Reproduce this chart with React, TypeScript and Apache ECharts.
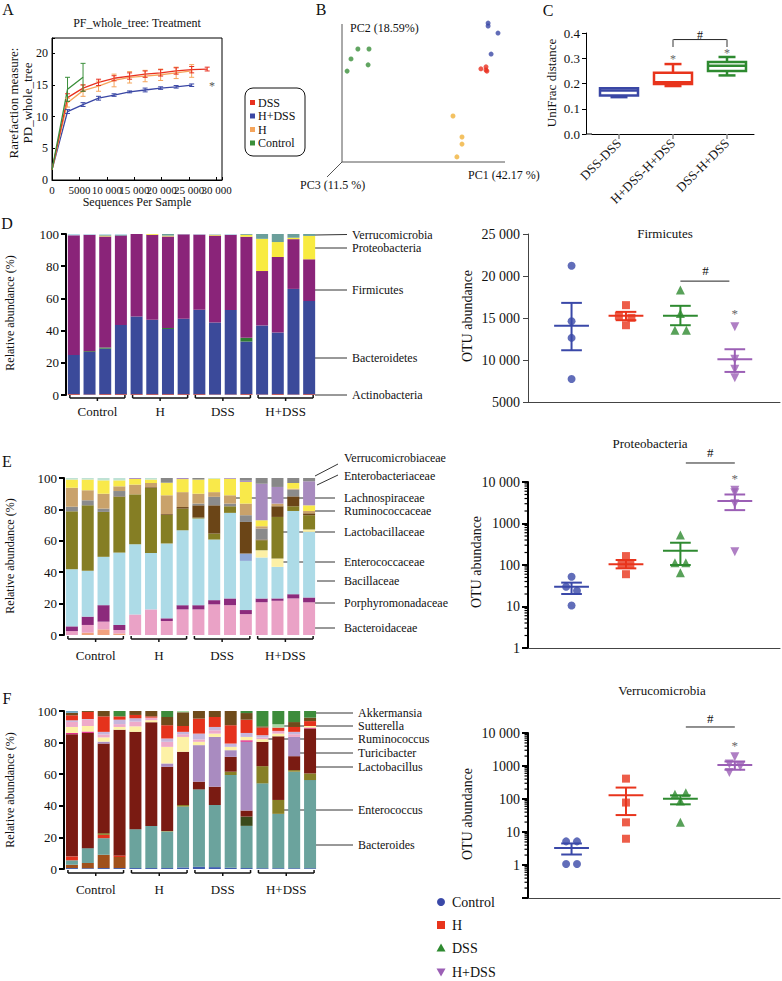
import React, { useEffect, useRef } from "react";
import * as echarts from "echarts";

const FONT = "Liberation Serif, DejaVu Serif, serif";
const fnt = (s: number) => `${s}px ${FONT}`;

// ---------------- Panel A: rarefaction ----------------
const rareDepths = [0, 2830, 5660, 8490, 11320, 14150, 16980, 19810, 22640, 25470, 28300];
const rareDSS = [1.6, 13.0, 14.5, 15.4, 16.05, 16.4, 16.7, 16.9, 17.2, 17.4, 17.5];
const rareDSSErr = [0, 0.6, 0.5, 0.5, 0.4, 0.5, 0.5, 0.5, 0.5, 0.5, 0.3];
const rareH = [1.6, 12.2, 14.1, 14.8, 15.7, 16.2, 16.4, 16.6, 16.9, 17.2];
const rareHErr = [0, 0.7, 0.9, 0.8, 1.0, 0.9, 0.9, 0.9, 0.9, 1.0];
const rareHDSS = [1.6, 10.8, 11.9, 12.9, 13.4, 13.9, 14.2, 14.5, 14.7, 14.95];
const rareHDSSErr = [0, 0.3, 0.3, 0.3, 0.2, 0.15, 0.3, 0.2, 0.2, 0.2];
const rareControl = [1.6, 14.3, 16.2];
const rareControlErr = [0, 1.9, 2.2];
const legendA = ["DSS", "H+DSS", "H", "Control"];

// ---------------- Panel B: PCoA ----------------
const pcControl = [[-0.247, 0.148], [-0.21, 0.148], [-0.27, 0.113], [-0.213, 0.092], [-0.283, 0.07]];
const pcHDSS = [[0.187, 0.239], [0.187, 0.229], [0.22, 0.204], [0.197, 0.13]];
const pcDSS = [[0.163, 0.078], [0.18, 0.085], [0.183, 0.07], [0.18, 0.074]];
const pcH = [[0.07, -0.088], [0.1, -0.162], [0.1, -0.187], [0.083, -0.232]];

// ---------------- Panel C: UniFrac ----------------
const uniCats = ["DSS-DSS", "H+DSS-H+DSS", "DSS-H+DSS"];
const uniBox = [
  [0.146, 0.152, 0.172, 0.181, 0.181],
  [0.19, 0.198, 0.205, 0.243, 0.277],
  [0.232, 0.25, 0.27, 0.285, 0.305],
];
const uniStars = [[1, 0.305], [2, 0.328]];
const uniSig = [1, 2, 0.374, 0.345, 0.393];

// ---------------- stacked bars ----------------
const sampleIds = ["C1", "C2", "C3", "C4", "H1", "H2", "H3", "H4", "D1", "D2", "D3", "D4", "HD1", "HD2", "HD3", "HD4"];
const groups = ["Control", "H", "DSS", "H+DSS"];
const groupRanges = [[0, 3], [4, 7], [8, 11], [12, 15]];

// D: phyla
const actinobacteria = [0.5, 0.3, 0.5, 0.5, 0.5, 0.5, 0.5, 0.5, 0.5, 0.3, 0.3, 0.5, 0.3, 0.5, 0.3, 0.5];
const bacteroidetes = [24.4, 26.4, 28.3, 43.0, 48.3, 46.2, 40.5, 46.8, 52.4, 44.7, 52.5, 32.7, 42.9, 38.3, 65.6, 57.9];
const deferribacteres = [0, 0.5, 0.7, 0, 0, 0, 0.6, 0, 0, 0, 0, 2.3, 0, 0, 0, 0];
const firmicutes = [74.3, 72.3, 69.0, 55.5, 51.2, 52.8, 56.9, 52.5, 46.8, 54.0, 46.7, 62.8, 33.8, 46.9, 30.9, 25.9];
const proteobacteria = [0, 0, 0.5, 0, 0, 0.5, 0.5, 0, 0, 0.5, 0, 1.2, 20.0, 9.3, 0.9, 14.5];
const verrucomicrobia = [0, 0, 0.5, 0.5, 0, 0, 1.0, 0, 0, 0.2, 0, 0.5, 3.0, 5.0, 2.3, 1.2];
const otherPhyla = [0.8, 0.5, 0.5, 0.5, 0, 0, 0, 0.2, 0.3, 0.3, 0.5, 0, 0, 0, 0, 0];

// E: families
const famSalmon = [0, 1.5, 3.6, 1.0, 0, 0, 0, 0, 0, 0, 0, 0, 0, 0, 0, 0];
const bacteroidaceae = [2.5, 4.9, 4.9, 2.2, 13.1, 16.3, 8.9, 16.3, 16.3, 19.5, 19.0, 13.3, 20.8, 21.8, 23.3, 20.8];
const porphyromonadaceae = [3.0, 5.3, 10.5, 3.2, 0, 0, 1.7, 2.7, 2.7, 2.7, 4.3, 2.6, 2.5, 1.5, 2.7, 3.1];
const bacillaceae = [36.4, 29.2, 30.8, 46.1, 44.7, 36.0, 47.7, 47.7, 55.2, 38.6, 54.5, 31.3, 26.1, 20.1, 53.0, 41.8];
const famPeri = [0, 0, 0, 0, 0, 0, 0, 0, 0, 0, 0, 4.7, 0, 0, 0, 0];
const enterococcaceae = [0, 0, 0, 0, 0, 0, 0, 0, 0, 0, 0, 0, 4.6, 5.3, 0, 1.5];
const lactobacillaceae = [36.9, 41.7, 28.6, 35.5, 31.8, 41.3, 18.2, 13.8, 0.6, 3.8, 4.2, 0, 6.4, 26.5, 3.0, 9.1];
const famBrown = [0, 0, 0, 0.3, 0, 0.5, 0.5, 1.0, 7.8, 18.0, 0, 20.1, 0.5, 6.8, 6.3, 1.2];
const famGray = [2.9, 3.2, 2.1, 3.4, 0, 0, 0, 0, 1.1, 5.4, 1.7, 4.3, 6.9, 0, 4.3, 0];
const lachnospiraceae = [12.1, 6.4, 9.5, 3.0, 6.2, 2.7, 12.0, 9.5, 6.3, 3.0, 5.3, 7.4, 1.5, 1.7, 0.6, 1.5];
const ruminococcaceae = [5.2, 6.8, 8.5, 3.8, 3.6, 2.2, 8.0, 8.3, 9.0, 8.6, 10.5, 13.8, 3.8, 0, 3.6, 3.6];
const enterobacteriaceae = [0, 0, 0, 0, 0.6, 0, 0, 0.7, 0, 0, 0.5, 0.8, 23.3, 10.6, 0, 15.3];
const verrucomicrobiaceae = [0, 0, 0, 0, 0, 0, 3.0, 0, 1.0, 0, 0, 1.7, 3.6, 5.7, 3.2, 2.1];
const famMint = [1.0, 1.0, 1.5, 1.5, 0, 1.0, 0, 0, 0, 0.4, 0, 0, 0, 0, 0, 0];

// F: genera
const genBlue = [0.6, 0.5, 0.6, 0.6, 0.6, 0.6, 0.6, 1.0, 1.5, 1.2, 0.8, 0.6, 0.5, 0.5, 0.5, 0.5];
const genBrick = [2.1, 3.3, 8.4, 7.0, 0, 0, 0, 0, 0, 0, 0, 0, 0, 0, 0, 0];
const bacteroides = [2.8, 9.4, 10.5, 0, 24.6, 26.6, 23.1, 38.5, 48.9, 39.3, 58.7, 26.7, 53.7, 34.4, 61.1, 55.8];
const genRedLow = [2.5, 0, 2.1, 1.0, 0, 0, 0, 0, 0, 0, 0, 0, 0, 0, 0, 0];
const genDarkGreen = [0, 0, 0, 0, 0, 0, 0, 0, 0, 0, 0, 5.9, 0, 0, 0, 0];
const enterococcus = [0, 0, 1.1, 0, 0, 0, 0.3, 1.0, 0, 0, 2.1, 0, 10.9, 8.8, 1.0, 4.2];
const lactobacillus = [77.3, 72.9, 56.7, 79.6, 61.6, 65.7, 40.7, 33.7, 4.9, 11.6, 9.4, 3.8, 15.4, 40.3, 8.8, 28.4];
const turicibacter = [0, 0, 1.2, 0, 0, 0, 2.1, 0, 23.1, 31.5, 4.2, 43.5, 0, 0, 12.2, 0];
const genMagenta = [0.8, 0.9, 0, 0, 0, 0, 0, 0, 0, 0, 0, 1.0, 0, 0, 0, 0.6];
const ruminococcus = [3.8, 3.5, 2.7, 1.7, 3.5, 1.3, 10.5, 9.4, 2.1, 2.1, 2.1, 2.1, 1.7, 1.7, 0, 1.0];
const genPink = [3.2, 4.0, 1.9, 1.8, 3.0, 1.6, 3.2, 1.7, 1.5, 2.1, 0, 0, 1.0, 1.7, 1.7, 0];
const genLightLilac = [1.0, 0.4, 1.6, 2.8, 2.1, 0, 2.1, 1.5, 3.7, 2.1, 2.1, 2.5, 1.5, 0, 1.5, 0];
const genRed = [3.2, 4.5, 9.8, 2.1, 2.1, 0.8, 8.4, 3.7, 9.5, 6.3, 11.6, 8.4, 4.8, 2.1, 3.1, 3.1];
const genBrown = [1.5, 0.6, 3.4, 0, 2.5, 3.4, 5.2, 8.7, 4.8, 3.8, 9.0, 4.2, 0.8, 0, 3.1, 2.2];
const sutterella = [0, 0, 0, 0, 0, 0, 0, 0.8, 0, 0, 0, 0, 0, 2.1, 0, 0];
const akkermansia = [0, 0, 0, 3.4, 0, 0, 3.8, 0, 0, 0, 0, 1.3, 9.7, 8.4, 7.0, 4.2];
const genTopTeal = [1.2, 0, 0, 0, 0, 0, 0, 0, 0, 0, 0, 0, 0, 0, 0, 0];

// ---------------- dot plots ----------------
const firmVals = [[21230, 14620, 12630, 7740], [16530, 15260, 15020, 14140], [18320, 15540, 13550, 13550], [13950, 10090, 8900, 7900]];
const firmDx = [[0, 0, 0, 0], [0, -0.13, 0.1, 0], [0, 0, -0.1, 0.11], [0, 0, 0, 0]];
const firmMean = [14066, 15260, 15260, 10090];
const firmLo = [11160, 14740, 14140, 8580];
const firmHi = [16800, 15730, 16450, 11280];
const firmSig = [3.0, 3.9, 19390, 3.46, 20700, 4.0, 15930];

const proVals = [[52, 30, 24, 10.6], [164, 106, 106, 60], [525, 114, 114, 65], [6300, 5500, 3000, 210]];
const proDx = [[0, -0.1, 0.1, 0], [0, -0.08, 0.08, 0], [0, -0.1, 0.1, 0], [0, 0, 0, 0]];
const proMean = [30, 104, 220, 3470];
const proLo = [20, 83, 100, 2100];
const proHi = [37.6, 132, 344, 5000];
const proSig = [3.1, 4.0, 28700, 3.55, 52800, 4.0, 14700];

const verVals = [[5.2, 5.2, 1.07, 1.07], [414, 78, 19.6, 6.25], [140, 155, 87, 19.6], [1900, 1150, 966, 640]];
const verDx = [[-0.1, 0.1, -0.1, 0.1], [0, 0, 0, 0], [-0.1, 0.1, 0, 0], [0, -0.1, 0.1, -0.1]];
const verMean = [3.3, 129, 102, 1080];
const verLo = [2.08, 32.6, 69, 770];
const verHi = [4.5, 222, 129, 1370];
const verSig = [3.1, 4.0, 15200, 3.55, 26600, 4.0, 4990];

const minorMult = [2, 3, 4, 5, 6, 7, 8, 9];
const decadesE = [1, 10, 100, 1000];
const decadesF = [0.1, 1, 10, 100, 1000];

// ---------------- colours ----------------
const cDSS = "#e8301f";
const cHDSS = "#3a47a5";
const cHa = "#f5a55c";
const cCtrl = "#3a8f3a";
const cHgold = "#f0b13a";
const boxColors = ["#3a47a5", "#e8341c", "#2e8a30"];
const groupColors = ["#3a48a8", "#e8341c", "#2e8a30", "#9b5fb5"];
const groupSymbols = ["circle", "rect", "triangle", "triangle"];
const groupRot = [0, 0, 0, 180];
const groupSizes = [8, 8, 9, 9];

const fmtSpace = (v: number) => {
  const r = Math.round(v);
  return r >= 10000 ? String(r).replace(/\B(?=(\d{3})+(?!\d))/g, " ") : String(r);
};

const txtStyle = (text: string, size: number, color: string, align: string, va: string) => ({
  text,
  font: fnt(size),
  fill: color,
  align,
  textAlign: align,
  verticalAlign: va,
  textVerticalAlign: va,
});

const T = (x: number, y: number, text: string, size = 13, o: any = {}) => ({
  type: "text",
  x,
  y,
  rotation: o.rot || 0,
  silent: true,
  style: txtStyle(text, size, o.color || "#111", o.align || "left", o.va || "middle"),
});
const L = (x1: number, y1: number, x2: number, y2: number, color = "#333", w = 1) => ({
  type: "line",
  silent: true,
  shape: { x1, y1, x2, y2 },
  style: { stroke: color, lineWidth: w },
});
const seg = (x1: number, y1: number, x2: number, y2: number, color: string, w: number) => ({
  type: "line",
  shape: { x1, y1, x2, y2 },
  style: { stroke: color, lineWidth: w },
});

function errRender(color: string) {
  return (_p: any, api: any) => {
    const x = api.value(0), y = api.value(1), e = api.value(2);
    if (!e) return { type: "group", children: [] };
    const t = api.coord([x, y + e]);
    const b = api.coord([x, y - e]);
    const w = 2.5;
    return {
      type: "group",
      children: [
        seg(t[0], t[1], b[0], b[1], color, 1),
        seg(t[0] - w, t[1], t[0] + w, t[1], color, 1),
        seg(b[0] - w, b[1], b[0] + w, b[1], color, 1),
      ],
    };
  };
}

function bracketSeries(xi: number, dy: number, labDy: number) {
  return {
    type: "custom",
    xAxisIndex: xi,
    yAxisIndex: xi,
    silent: true,
    clip: false,
    data: groupRanges.map((r, i) => [r[0], r[1], i]),
    renderItem: (_p: any, api: any) => {
      const a = api.coord([api.value(0), 0]);
      const b = api.coord([api.value(1), 0]);
      const y = a[1] + dy;
      const xa = a[0] - 4, xb = b[0] + 4, xm = (xa + xb) / 2;
      const c = "#111";
      return {
        type: "group",
        children: [
          seg(xa, y, xb, y, c, 1.5),
          seg(xa, y, xa, y - 3, c, 1.5),
          seg(xb, y, xb, y - 3, c, 1.5),
          seg(xm, y, xm, y + 3, c, 1.5),
          { type: "text", x: xm, y: y + labDy, style: txtStyle(groups[api.value(2)], 13, "#111", "center", "middle") },
        ],
      };
    },
  };
}

function barSeries(xi: number, stack: string, fams: any[]) {
  return fams.map(([name, data, color]) => ({
    type: "bar",
    name,
    xAxisIndex: xi,
    yAxisIndex: xi,
    stack,
    data,
    barWidth: 12,
    silent: true,
    itemStyle: { color },
  }));
}

function dotSeries(xi: number, vals: number[][], dxs: number[][]) {
  return vals.map((vs, gi) => ({
    type: "scatter",
    xAxisIndex: xi,
    yAxisIndex: xi,
    symbol: groupSymbols[gi],
    symbolRotate: groupRot[gi],
    symbolSize: groupSizes[gi],
    itemStyle: { color: groupColors[gi] },
    data: vs.map((v, k) => [gi + 1 + dxs[gi][k], v]),
    z: 3,
  }));
}

function meanSemSeries(xi: number, mean: number[], lo: number[], hi: number[]) {
  return {
    type: "custom",
    xAxisIndex: xi,
    yAxisIndex: xi,
    silent: true,
    z: 2,
    data: mean.map((m, i) => [i + 1, m, lo[i], hi[i], i]),
    renderItem: (_p: any, api: any) => {
      const x = api.value(0), m = api.value(1), l = api.value(2), h = api.value(3);
      const c = groupColors[api.value(4)];
      const a = api.coord([x - 0.32, m]), b = api.coord([x + 0.32, m]);
      const l1 = api.coord([x - 0.19, l]), l2 = api.coord([x + 0.19, l]);
      const h1 = api.coord([x - 0.19, h]), h2 = api.coord([x + 0.19, h]);
      const cx = (l1[0] + l2[0]) / 2;
      return {
        type: "group",
        children: [
          seg(a[0], a[1], b[0], b[1], c, 2),
          seg(cx, l1[1], cx, h1[1], c, 2),
          seg(l1[0], l1[1], l2[0], l2[1], c, 2),
          seg(h1[0], h1[1], h2[0], h2[1], c, 2),
        ],
      };
    },
  };
}

function sigSeries(xi: number, s: number[]) {
  return {
    type: "custom",
    xAxisIndex: xi,
    yAxisIndex: xi,
    silent: true,
    clip: false,
    data: [s],
    renderItem: (_p: any, api: any) => {
      const a = api.coord([api.value(0), api.value(2)]);
      const b = api.coord([api.value(1), api.value(2)]);
      const hsh = api.coord([api.value(3), api.value(4)]);
      const st = api.coord([api.value(5), api.value(6)]);
      return {
        type: "group",
        children: [
          seg(a[0], a[1], b[0], b[1], "#222", 1),
          { type: "text", x: hsh[0], y: hsh[1], style: txtStyle("#", 13, "#111", "center", "middle") },
          { type: "text", x: st[0], y: st[1] + 3, style: txtStyle("*", 13, "#666", "center", "middle") },
        ],
      };
    },
  };
}

function minorTickSeries(xi: number, decades: number[]) {
  const vals: number[][] = [];
  decades.forEach((d) => minorMult.forEach((m) => vals.push([0.2, d * m])));
  return {
    type: "custom",
    xAxisIndex: xi,
    yAxisIndex: xi,
    silent: true,
    clip: false,
    data: vals,
    renderItem: (_p: any, api: any) => {
      const p = api.coord([api.value(0), api.value(1)]);
      return seg(p[0] - 3.5, p[1], p[0], p[1], "#000", 1.2);
    },
  };
}

function buildOption() {
  const noOuter = { outerBoundsMode: "none" };
  const grid = [
    { left: 52, top: 38, width: 170, height: 142, show: true, borderColor: "#000", borderWidth: 1, ...noOuter },
    { left: 342, top: 20, width: 180, height: 142, ...noOuter },
    { left: 592, top: 33, width: 162, height: 101, ...noOuter },
    { left: 66, top: 234, width: 251, height: 161, ...noOuter },
    { left: 528, top: 234, width: 252, height: 168, ...noOuter },
    { left: 64, top: 478, width: 253, height: 157, ...noOuter },
    { left: 528, top: 482, width: 252, height: 166, ...noOuter },
    { left: 64, top: 711, width: 254, height: 158, ...noOuter },
    { left: 528, top: 733, width: 252, height: 165, ...noOuter },
  ];

  const catHidden = (gi: number) => ({
    type: "category",
    gridIndex: gi,
    data: sampleIds,
    axisLine: { show: false },
    axisTick: { show: false },
    axisLabel: { show: false },
  });
  const dotX = (gi: number) => ({
    type: "value",
    gridIndex: gi,
    min: 0.2,
    max: 4.83,
    axisLine: { show: true, onZero: false, lineStyle: { color: "#444", width: 1 } },
    axisTick: { show: false },
    axisLabel: { show: false },
    splitLine: { show: false },
  });
  const barY = (gi: number) => ({
    type: "value",
    gridIndex: gi,
    min: 0,
    max: 100,
    interval: 20,
    axisLine: { show: true, lineStyle: { color: "#000", width: 2 } },
    axisTick: { show: true, length: 5, lineStyle: { color: "#000", width: 2 } },
    axisLabel: { fontSize: 13, margin: 7, color: "#111", fontFamily: FONT },
    splitLine: { show: false },
  });
  const logY = (gi: number, min: number) => ({
    type: "log",
    gridIndex: gi,
    logBase: 10,
    min,
    max: 10000,
    axisLine: { show: true, onZero: false, lineStyle: { color: "#000", width: 2 } },
    axisTick: { show: true, length: 6, lineStyle: { color: "#000", width: 2 } },
    axisLabel: {
      fontSize: 14,
      margin: 8,
      color: "#111",
      fontFamily: FONT,
      formatter: (v: number) => (v < 0.5 ? "" : fmtSpace(v)),
    },
    splitLine: { show: false },
  });

  const xAxis: any[] = [
    {
      type: "value",
      gridIndex: 0,
      min: 0,
      max: 31000,
      interval: 5000,
      axisLine: { show: true, onZero: false, lineStyle: { color: "#000" } },
      axisTick: { show: true, inside: true, length: 3, lineStyle: { color: "#000" } },
      axisLabel: {
        fontSize: 11,
        margin: 4,
        color: "#111",
        fontFamily: FONT,
        formatter: (v: number) => (v % 5000 === 0 ? fmtSpace(v) : ""),
      },
      splitLine: { show: false },
    },
    { type: "value", gridIndex: 1, min: -0.3, max: 0.3, show: false },
    {
      type: "category",
      gridIndex: 2,
      data: uniCats,
      axisLine: { show: true, onZero: false, lineStyle: { color: "#000" } },
      axisTick: { show: true, alignWithLabel: true, length: 5, lineStyle: { color: "#888", width: 1.5 } },
      axisLabel: { rotate: 45, fontSize: 13, margin: 7, color: "#111", fontFamily: FONT },
    },
    catHidden(3),
    dotX(4),
    catHidden(5),
    dotX(6),
    catHidden(7),
    dotX(8),
  ];

  const yAxis: any[] = [
    {
      type: "value",
      gridIndex: 0,
      min: 0,
      max: 22.4,
      interval: 5,
      axisLine: { show: true, onZero: false, lineStyle: { color: "#000" } },
      axisTick: { show: true, inside: true, length: 3, lineStyle: { color: "#000" } },
      axisLabel: {
        fontSize: 12,
        margin: 4,
        color: "#111",
        fontFamily: FONT,
        formatter: (v: number) => (v % 5 === 0 ? String(v) : ""),
      },
      splitLine: { show: false },
    },
    { type: "value", gridIndex: 1, min: -0.25, max: 0.25, show: false },
    {
      type: "value",
      gridIndex: 2,
      min: 0,
      max: 0.4,
      interval: 0.1,
      offset: 6,
      axisLine: { show: true, lineStyle: { color: "#000" } },
      axisTick: { show: true, length: 4, lineStyle: { color: "#000" } },
      axisLabel: { fontSize: 13, margin: 6, color: "#111", fontFamily: FONT, formatter: (v: number) => v.toFixed(1) },
      splitLine: { show: false },
    },
    barY(3),
    {
      type: "value",
      gridIndex: 4,
      min: 5000,
      max: 25000,
      interval: 5000,
      axisLine: { show: true, lineStyle: { color: "#444", width: 1 } },
      axisTick: { show: true, length: 5, lineStyle: { color: "#444" } },
      axisLabel: { fontSize: 14, margin: 8, color: "#111", fontFamily: FONT, formatter: (v: number) => fmtSpace(v) },
      splitLine: { show: false },
    },
    barY(5),
    logY(6, 1),
    barY(7),
    logY(8, 0.1),
  ];

  const lineA = (ys: number[], color: string) => ({
    type: "line",
    xAxisIndex: 0,
    yAxisIndex: 0,
    data: ys.map((y, i) => [rareDepths[i], y]),
    showSymbol: false,
    lineStyle: { color, width: 1.3 },
    itemStyle: { color },
    z: 3,
  });
  const errA = (ys: number[], errs: number[], color: string) => ({
    type: "custom",
    xAxisIndex: 0,
    yAxisIndex: 0,
    silent: true,
    data: ys.map((y, i) => [rareDepths[i], y, errs[i]]),
    renderItem: errRender(color),
    z: 4,
  });

  const series: any[] = [
    lineA(rareHDSS, cHDSS),
    errA(rareHDSS, rareHDSSErr, cHDSS),
    lineA(rareH, cHa),
    errA(rareH, rareHErr, cHa),
    lineA(rareDSS, cDSS),
    errA(rareDSS, rareDSSErr, cDSS),
    lineA(rareControl, cCtrl),
    errA(rareControl, rareControlErr, cCtrl),
  ];

  // B
  ([[pcControl, cCtrl], [pcHDSS, cHDSS], [pcDSS, cDSS], [pcH, cHgold]] as any[]).forEach(([d, c]) =>
    series.push({ type: "scatter", xAxisIndex: 1, yAxisIndex: 1, data: d, symbolSize: 5, itemStyle: { color: c } })
  );

  // C boxplot
  series.push({
    type: "custom",
    xAxisIndex: 2,
    yAxisIndex: 2,
    silent: true,
    data: uniBox.map((b, i) => [i, ...b]),
    renderItem: (_p: any, api: any) => {
      const i = api.value(0);
      const v = [1, 2, 3, 4, 5].map((k) => api.value(k));
      const p = v.map((y) => api.coord([i, y]));
      const x = p[0][0];
      const hw = 19, cw = 8.5;
      const c = boxColors[i];
      return {
        type: "group",
        children: [
          seg(x, p[3][1], x, p[4][1], c, 2.5),
          seg(x, p[1][1], x, p[0][1], c, 2.5),
          seg(x - cw, p[4][1], x + cw, p[4][1], c, 2.5),
          seg(x - cw, p[0][1], x + cw, p[0][1], c, 2.5),
          {
            type: "rect",
            shape: { x: x - hw, y: p[3][1], width: hw * 2, height: p[1][1] - p[3][1] },
            style: { fill: "#fff", stroke: c, lineWidth: 2.5 },
          },
          seg(x - hw, p[2][1], x + hw, p[2][1], c, 2.5),
        ],
      };
    },
  });
  series.push({
    type: "custom",
    xAxisIndex: 2,
    yAxisIndex: 2,
    silent: true,
    clip: false,
    data: [uniSig],
    renderItem: (_p: any, api: any) => {
      const a = api.coord([api.value(0), api.value(2)]);
      const b = api.coord([api.value(1), api.value(2)]);
      const ta = api.coord([api.value(0), api.value(3)]);
      const hy = api.coord([api.value(0), api.value(4)])[1];
      const kids: any[] = [
        seg(a[0], a[1], b[0], b[1], "#222", 1),
        seg(a[0], a[1], a[0], ta[1], "#999", 2),
        seg(b[0], b[1], b[0], ta[1], "#999", 2),
        { type: "text", x: (a[0] + b[0]) / 2, y: hy, style: txtStyle("#", 12, "#111", "center", "middle") },
      ];
      uniStars.forEach((s) => {
        const q = api.coord(s);
        kids.push({ type: "text", x: q[0], y: q[1] + 2, style: txtStyle("*", 12, "#666", "center", "middle") });
      });
      return { type: "group", children: kids };
    },
  });

  // D bars
  series.push(
    ...barSeries(3, "D", [
      ["Actinobacteria", actinobacteria, "#e0402a"],
      ["Bacteroidetes", bacteroidetes, "#3b4a9a"],
      ["Deferribacteres", deferribacteres, "#2f7a33"],
      ["Firmicutes", firmicutes, "#8a2479"],
      ["Proteobacteria", proteobacteria, "#f8eb40"],
      ["Verrucomicrobia", verrucomicrobia, "#6b9f9b"],
      ["Other", otherPhyla, "#b5dbe8"],
    ])
  );
  series.push(bracketSeries(3, 3, 13));

  // D right
  series.push(meanSemSeries(4, firmMean, firmLo, firmHi), ...dotSeries(4, firmVals, firmDx), sigSeries(4, firmSig));

  // E bars
  series.push(
    ...barSeries(5, "E", [
      ["Other1", famSalmon, "#f1a27f"],
      ["Bacteroidaceae", bacteroidaceae, "#eaa2c6"],
      ["Porphyromonadaceae", porphyromonadaceae, "#8c2a7c"],
      ["Bacillaceae", bacillaceae, "#addbe7"],
      ["Other2", famPeri, "#8fa7d6"],
      ["Enterococcaceae", enterococcaceae, "#fcf0a6"],
      ["Lactobacillaceae", lactobacillaceae, "#857e24"],
      ["Other3", famBrown, "#6b4517"],
      ["Other4", famGray, "#8b8b8b"],
      ["Lachnospiraceae", lachnospiraceae, "#c9a26b"],
      ["Ruminococcaceae", ruminococcaceae, "#f9e94a"],
      ["Enterobacteriaceae", enterobacteriaceae, "#a88bbf"],
      ["Verrucomicrobiaceae", verrucomicrobiaceae, "#888888"],
      ["Other5", famMint, "#bfe2d5"],
    ])
  );
  series.push(bracketSeries(5, 4, 16));

  // E right
  series.push(
    meanSemSeries(6, proMean, proLo, proHi),
    ...dotSeries(6, proVals, proDx),
    sigSeries(6, proSig),
    minorTickSeries(6, decadesE)
  );

  // F bars
  series.push(
    ...barSeries(7, "F", [
      ["g1", genBlue, "#3e5bb0"],
      ["g2", genBrick, "#a0511c"],
      ["Bacteroides", bacteroides, "#6ba39d"],
      ["g3", genRedLow, "#e3321d"],
      ["g4", genDarkGreen, "#3a4a1b"],
      ["Enterococcus", enterococcus, "#877f26"],
      ["Lactobacillus", lactobacillus, "#7a1b12"],
      ["Turicibacter", turicibacter, "#a98bc0"],
      ["g5", genMagenta, "#df2f8d"],
      ["Ruminococcus", ruminococcus, "#fdf1a6"],
      ["g6", genPink, "#efaac9"],
      ["g7", genLightLilac, "#c5b6dc"],
      ["g8", genRed, "#e5321c"],
      ["g9", genBrown, "#6f4b1b"],
      ["Sutterella", sutterella, "#a7d7a3"],
      ["Akkermansia", akkermansia, "#3d8c3b"],
      ["g10", genTopTeal, "#6fa6bf"],
    ])
  );
  series.push(bracketSeries(7, 4, 16));

  // F right
  series.push(
    meanSemSeries(8, verMean, verLo, verHi),
    ...dotSeries(8, verVals, verDx),
    sigSeries(8, verSig),
    minorTickSeries(8, decadesF)
  );

  // ---------------- static annotations ----------------
  const g: any[] = [];
  [["A", 8, 9], ["B", 321, 9], ["C", 548, 10], ["D", 7, 223], ["E", 7, 461], ["F", 7, 698]].forEach(([t, x, y]: any) =>
    g.push(T(x, y, t, 16, { align: "center" }))
  );
  // A
  g.push(T(137, 23, "PF_whole_tree: Treatment", 12, { align: "center" }));
  g.push(T(137, 202, "Sequences Per Sample", 12, { align: "center" }));
  g.push(T(13, 103, "Rarefaction measure:", 13, { align: "center", rot: Math.PI / 2 }));
  g.push(T(27, 103, "PD_whole_tree", 13, { align: "center", rot: Math.PI / 2 }));
  g.push(T(212, 86, "*", 12, { align: "center", color: "#555" }));
  g.push({
    type: "rect",
    silent: true,
    shape: { x: 245, y: 88, width: 60, height: 68, r: 8 },
    style: { fill: "none", stroke: "#111", lineWidth: 1 },
  });
  const legCols = [cDSS, cHDSS, cHa, cCtrl];
  const legY = [102.5, 116, 129.5, 143];
  legendA.forEach((name, i) => {
    g.push({ type: "rect", silent: true, shape: { x: 250, y: legY[i] - 2.5, width: 5, height: 5 }, style: { fill: legCols[i] } });
    g.push(T(258, legY[i], name, 12));
  });
  // B
  g.push(L(342, 24, 342, 162, "#555", 1), L(342, 162, 505, 162, "#555", 1), L(342, 162, 327, 177, "#555", 1));
  g.push(T(350, 28, "PC2 (18.59%)", 12), T(468, 175, "PC1 (42.17 %)", 12), T(300, 185, "PC3 (11.5 %)", 12));
  // C
  g.push(T(551, 83, "UniFrac distance", 13, { align: "center", rot: Math.PI / 2 }));
  g.push(L(586, 134, 592, 134, "#000", 1));
  // y titles of bar panels
  g.push(T(10, 313, "Relative abundance (%)", 12, { align: "center", rot: Math.PI / 2 }));
  g.push(T(10, 556, "Relative abundance (%)", 12, { align: "center", rot: Math.PI / 2 }));
  g.push(T(10, 790, "Relative abundance (%)", 12, { align: "center", rot: Math.PI / 2 }));
  // dot panel titles
  g.push(T(665, 233, "Firmicutes", 13, { align: "center" }));
  g.push(T(650, 443, "Proteobacteria", 13, { align: "center" }));
  g.push(T(662, 690, "Verrucomicrobia", 13, { align: "center" }));
  g.push(T(467, 316, "OTU abundance", 14, { align: "center", rot: Math.PI / 2 }));
  g.push(T(476, 562, "OTU abundance", 14, { align: "center", rot: Math.PI / 2 }));
  g.push(T(467, 814, "OTU abundance", 14, { align: "center", rot: Math.PI / 2 }));
  // D labels
  const dLab: any[] = [
    ["Verrucomicrobia", 315, 235, 347, 234.5],
    ["Proteobacteria", 315, 248, 347, 248],
    ["Firmicutes", 315, 290, 347, 290],
    ["Bacteroidetes", 315, 358, 347, 358],
    ["Actinobacteria", 315, 395, 347, 395],
  ];
  dLab.forEach(([t, x1, y1, x2, y2]) => {
    g.push(L(x1, y1, x2, y2, "#333", 1));
    g.push(T(352, y2, t, 12));
  });
  const eLab: any[] = [
    ["Verrucomicrobiaceae", 315, 476, 338, 464, 458],
    ["Enterobacteriaceae", 317, 485, 338, 475, 476],
    ["Lachnospiraceae", 233, 498, 335, 498, 498],
    ["Ruminococcaceae", 315, 511, 335, 511, 511],
    ["Lactobacillaceae", 282, 532, 335, 532, 532],
    ["Enterococcaceae", 283, 562, 335, 562, 562],
    ["Bacillaceae", 317, 581, 335, 581, 581],
    ["Porphyromonadaceae", 315, 603, 335, 603, 603],
    ["Bacteroidaceae", 315, 628, 335, 628, 628],
  ];
  eLab.forEach(([t, x1, y1, x2, y2, ty]) => {
    g.push(L(x1, y1, x2, y2, "#333", 1));
    g.push(T(344, ty, t, 12));
  });
  const fLab: any[] = [
    ["Akkermansia", 315, 713],
    ["Sutterella", 282, 726],
    ["Ruminococcus", 267, 739],
    ["Turicibacter", 297, 753],
    ["Lactobacillus", 313, 767],
    ["Enterococcus", 282, 810],
    ["Bacteroides", 315, 845],
  ];
  fLab.forEach(([t, x1, y]) => {
    g.push(L(x1, y, 353, y, "#333", 1));
    g.push(T(358, y, t, 12));
  });
  // bottom legend
  const lgY = [902, 925, 948, 972];
  g.push({ type: "circle", silent: true, shape: { cx: 441, cy: lgY[0], r: 4 }, style: { fill: groupColors[0] } });
  g.push({ type: "rect", silent: true, shape: { x: 437, y: lgY[1] - 4, width: 8, height: 8 }, style: { fill: groupColors[1] } });
  g.push({
    type: "polygon",
    silent: true,
    shape: { points: [[441, lgY[2] - 4.5], [445.5, lgY[2] + 3.5], [436.5, lgY[2] + 3.5]] },
    style: { fill: groupColors[2] },
  });
  g.push({
    type: "polygon",
    silent: true,
    shape: { points: [[441, lgY[3] + 4.5], [445.5, lgY[3] - 3.5], [436.5, lgY[3] - 3.5]] },
    style: { fill: groupColors[3] },
  });
  groups.forEach((name, i) => g.push(T(452, lgY[i], name, 14)));

  return {
    animation: false,
    backgroundColor: "#fff",
    textStyle: { fontFamily: FONT },
    grid,
    xAxis,
    yAxis,
    series,
    graphic: { elements: g },
  };
}

export default function App() {
  const ref = useRef<HTMLDivElement>(null);
  useEffect(() => {
    if (!ref.current) return;
    const chart = echarts.init(ref.current, null, { renderer: "svg" });
    chart.setOption(buildOption() as any);
    return () => chart.dispose();
  }, []);
  return (
    <div
      ref={ref}
      style={{ position: "absolute", left: 0, top: 0, width: 782, height: 981, background: "#fff" }}
    />
  );
}
